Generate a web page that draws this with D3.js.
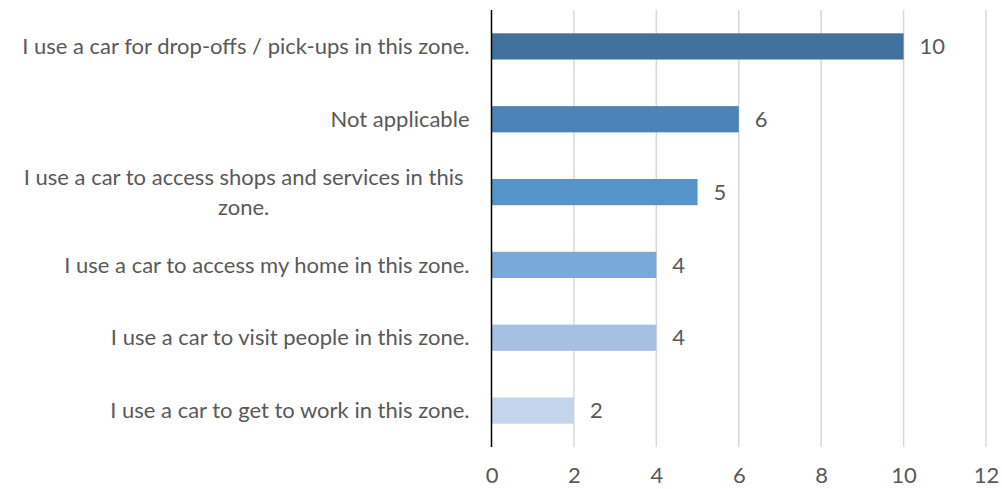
<!DOCTYPE html>
<html>
<head>
<meta charset="utf-8">
<script src="https://cdn.jsdelivr.net/npm/d3@7"></script>
<style>
  html, body { margin: 0; padding: 0; background: #fff; }
  svg { display: block; }
  text { font-family: Lato, "Open Sans", sans-serif; fill: #595959; }
</style>
</head>
<body>
<svg id="chart" width="1002" height="489"></svg>
<script>
// Survey responses: reasons for using a car in the zone
const categories = [
  "I use a car for drop-offs / pick-ups in this zone.",
  "Not applicable",
  "I use a car to access shops and services in this zone.",
  "I use a car to access my home in this zone.",
  "I use a car to visit people in this zone.",
  "I use a car to get to work in this zone."
];
const counts = [10, 6, 5, 4, 4, 2];
const barColors = ["#41719c", "#4c83b7", "#5593cb", "#7aa8d8", "#a6c0e4", "#c4d5eb"];
const xTicks = [0, 2, 4, 6, 8, 10, 12];

const FS = 22;
const svg = d3.select("#chart");
const margin = { top: 10, right: 16, bottom: 42, left: 491.5 };
const W = 1002, H = 489;

const x = d3.scaleLinear().domain([0, 12]).range([margin.left, W - margin.right]);
const y = d3.scaleBand().domain(categories).range([margin.top, H - margin.bottom]).paddingInner(0.64).paddingOuter(0.32);

// vertical gridlines
svg.append("g").selectAll("line").data(xTicks.filter(d => d > 0)).join("line")
  .attr("x1", d => x(d)).attr("x2", d => x(d))
  .attr("y1", margin.top).attr("y2", H - margin.bottom)
  .attr("stroke", "#d9d9d9").attr("stroke-width", 1.5);

// bars
svg.append("g").selectAll("rect").data(categories).join("rect")
  .attr("x", x(0))
  .attr("y", d => y(d))
  .attr("width", (d, i) => x(counts[i]) - x(0))
  .attr("height", y.bandwidth())
  .attr("fill", (d, i) => barColors[i]);

// value labels
svg.append("g").selectAll("text").data(categories).join("text")
  .attr("x", (d, i) => x(counts[i]) + 16)
  .attr("y", d => y(d) + y.bandwidth() / 2)
  .attr("dy", "0.35em")
  .attr("font-size", FS)
  .text((d, i) => counts[i]);

// x axis tick labels
const xAxis = svg.append("g")
  .attr("transform", `translate(0,${H - margin.bottom})`)
  .call(d3.axisBottom(x).tickValues(xTicks).tickSize(0).tickPadding(20).tickFormat(d3.format("d")));
xAxis.select(".domain").remove();
xAxis.selectAll("text").attr("font-size", FS).attr("fill", "#595959")
  .style("font-family", 'Lato, "Open Sans", sans-serif');

// y axis line
svg.append("line")
  .attr("x1", x(0)).attr("x2", x(0))
  .attr("y1", margin.top).attr("y2", H - margin.bottom)
  .attr("stroke", "#000").attr("stroke-width", 1.5);

// category labels, wrapped to a maximum width and centred on their own block
const maxLabelWidth = 462;
const labelG = svg.append("g");
const measure = s => {
  const p = labelG.append("text").attr("font-size", FS).text(s);
  const w = p.node().getComputedTextLength();
  p.remove();
  return w;
};
categories.forEach(cat => {
  const t = labelG.append("text")
    .attr("font-size", FS)
    .attr("text-anchor", "end")
    .attr("x", margin.left - 22)
    .attr("y", y(cat) + y.bandwidth() / 2);
  const words = cat.split(" ");
  const lines = [];
  let line = [];
  words.forEach(w => {
    const test = line.concat(w).join(" ");
    if (measure(test) > maxLabelWidth && line.length) {
      lines.push(line.join(" "));
      line = [w];
    } else {
      line.push(w);
    }
  });
  lines.push(line.join(" "));
  const lh = 30;
  if (lines.length === 1) {
    t.attr("dy", "0.35em").text(lines[0]);
  } else {
    // multi-line labels are centred within the widest line
    t.attr("text-anchor", "middle");
    const maxW = Math.max(...lines.map(measure));
    const cx = margin.left - 28 - maxW / 2;
    lines.forEach((l, i) => {
      t.append("tspan")
        .attr("x", cx)
        .attr("y", y(cat) + y.bandwidth() / 2 + (i - (lines.length - 1) / 2) * lh)
        .attr("dy", "0.35em")
        .text(l);
    });
  }
});
</script>
</body>
</html>
